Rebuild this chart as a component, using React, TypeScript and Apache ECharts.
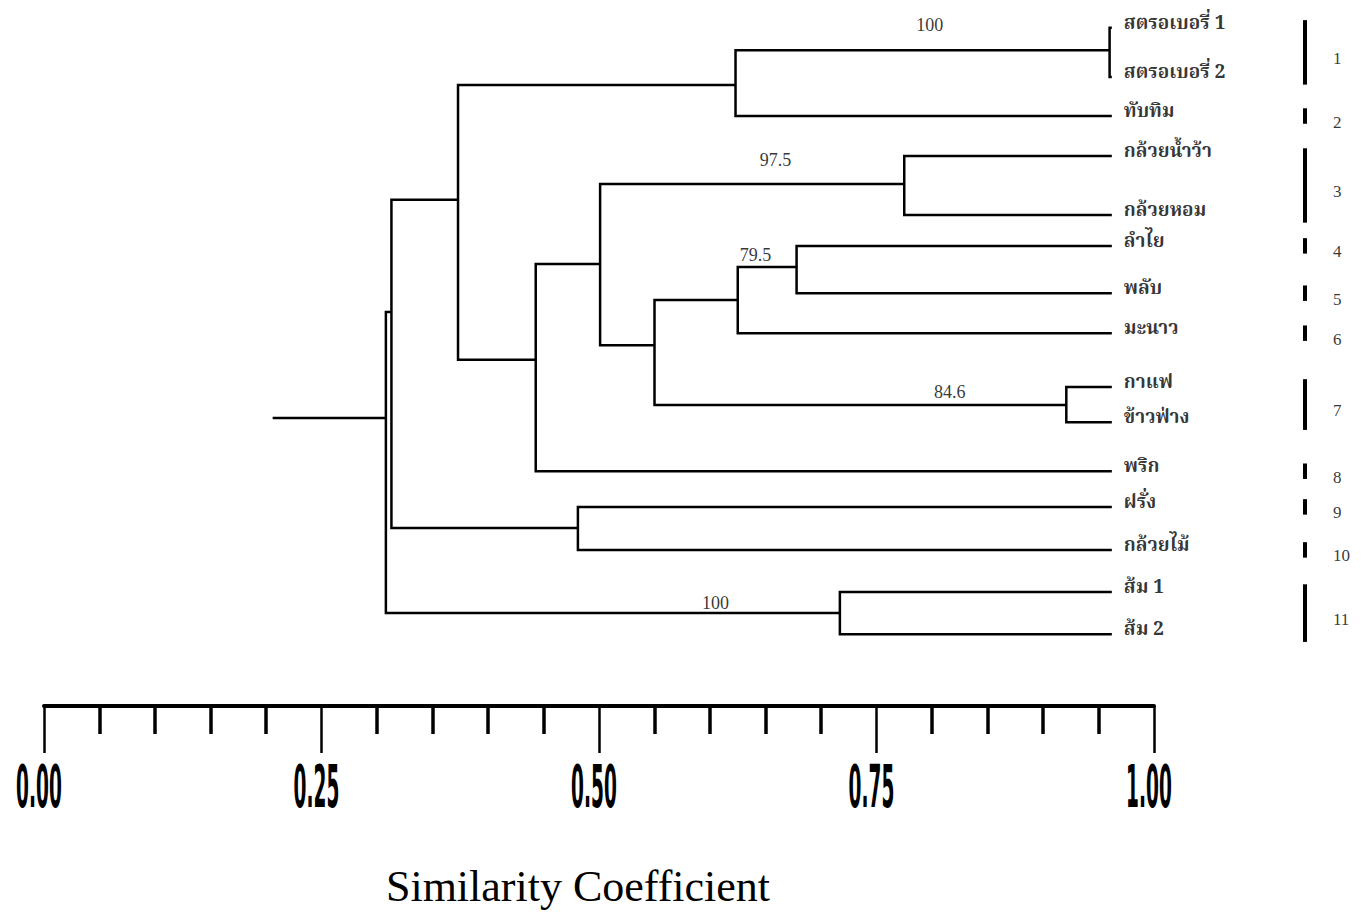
import React, { useEffect, useRef } from "react";
import * as echarts from "echarts";

// ---------- data ----------
const leafNames = [
  "สตรอเบอรี่ 1", "สตรอเบอรี่ 2", "ทับทิม", "กล้วยน้ำว้า", "กล้วยหอม",
  "ลำไย", "พลับ", "มะนาว", "กาแฟ", "ข้าวฟ่าง", "พริก", "ฝรั่ง", "กล้วยไม้", "ส้ม 1", "ส้ม 2",
];
// vertical position of each leaf (in leaf-row units, 0 = first row)
const leafRows = [-0.05, 1.09, 2.0, 2.93, 4.3, 5.02, 6.12, 7.05, 8.3, 9.12, 10.26, 11.09, 12.09, 13.07, 14.05];
const leafSimilarity = 0.962;

// internal nodes of the dendrogram
const nodeIds = ["straw", "a", "banana", "lp", "n5", "coffee", "n7", "n8", "n9", "n10", "gg", "X", "orange", "root"];
const nodeChildren = [
  ["L0", "L1"], ["straw", "L2"], ["L3", "L4"], ["L5", "L6"], ["lp", "L7"], ["L8", "L9"],
  ["n5", "coffee"], ["banana", "n7"], ["n8", "L10"], ["a", "n9"], ["L11", "L12"],
  ["n10", "gg"], ["L13", "L14"], ["X", "orange"],
];
const nodeSimilarity = [0.96, 0.623, 0.775, 0.678, 0.625, 0.921, 0.55, 0.501, 0.443, 0.373, 0.481, 0.313, 0.717, 0.308];
const nodeRows = [0.47, 1.28, 3.58, 5.51, 6.28, 8.72, 7.33, 5.44, 7.67, 3.95, 11.58, 6.56, 13.56, 9.02];
const rootStubStart = 0.206;

// bootstrap support values
const bootstrapValues = ["100", "97.5", "79.5", "84.6", "100"];
const bootstrapSimilarity = [0.798, 0.659, 0.641, 0.816, 0.605];
const bootstrapRows = [-0.12, 3.02, 5.23, 8.42, 13.33];

// groups shown on the right
const groupLabels = ["1", "2", "3", "4", "5", "6", "7", "8", "9", "10", "11"];
const groupFirstLeaf = [0, 2, 3, 5, 6, 7, 8, 10, 11, 12, 13];
const groupLastLeaf = [1, 2, 4, 5, 6, 7, 9, 10, 11, 12, 14];

// axis
const axisTickValues = [0, 0.25, 0.5, 0.75, 1];
const axisTickLabels = ["0.00", "0.25", "0.50", "0.75", "1.00"];
const axisTitle = "Similarity Coefficient";

export default function App() {
  const ref = useRef<HTMLDivElement>(null);

  useEffect(() => {
    if (!ref.current) return;
    const chart = echarts.init(ref.current, null, { renderer: "svg" });

    const pos: Record<string, { x: number; row: number }> = {};
    leafNames.forEach((_, i) => (pos["L" + i] = { x: leafSimilarity, row: leafRows[i] }));
    nodeIds.forEach((id, i) => (pos[id] = { x: nodeSimilarity[i], row: nodeRows[i] }));

    const treeLines: any[] = nodeIds.map((id, i) => {
      const [c1, c2] = nodeChildren[i].map((c) => pos[c]);
      const x = nodeSimilarity[i];
      return { coords: [[c1.x, c1.row], [x, c1.row], [x, c2.row], [c2.x, c2.row]] };
    });
    const root = pos["root"];
    treeLines.push({ coords: [[rootStubStart, root.row], [root.x, root.row]] });

    const groupBarX = 1.136;
    const barPad = 0.18;
    const groupBars = groupLabels.map((_, i) => ({
      coords: [
        [groupBarX, leafRows[groupFirstLeaf[i]] - barPad],
        [groupBarX, leafRows[groupLastLeaf[i]] + barPad],
      ],
    }));
    const groupMid = groupLabels.map((g, i) => ({
      value: [groupBarX, (leafRows[groupFirstLeaf[i]] + leafRows[groupLastLeaf[i]]) / 2],
      name: g,
    }));

    const yMin = -0.698;
    const yMax = 15.72;

    const option: any = {
      animation: false,
      backgroundColor: "#ffffff",
      grid: { left: 44, right: 216, top: 0, height: 706, containLabel: false },
      xAxis: {
        type: "value",
        min: 0,
        max: 1,
        interval: 0.25,
        position: "bottom",
        axisLine: { show: true, onZero: false, lineStyle: { color: "#000", width: 4 } },
        axisTick: { show: true, length: 47, lineStyle: { color: "#000", width: 2.5 } },
        minorTick: { show: true, splitNumber: 5, length: 28, lineStyle: { color: "#000", width: 3.5 } },
        splitLine: { show: false },
        minorSplitLine: { show: false },
        axisLabel: { show: false },
        name: axisTitle,
        nameLocation: "middle",
        nameGap: 158,
        nameTextStyle: {
          color: "#000",
          fontSize: 44,
          fontFamily: "'Liberation Serif', 'DejaVu Serif', serif",
          padding: [0, 42, 0, 0],
        },
      },
      yAxis: { type: "value", inverse: true, min: yMin, max: yMax, show: false },
      series: [
        {
          type: "lines",
          coordinateSystem: "cartesian2d",
          polyline: true,
          silent: true,
          clip: false,
          lineStyle: { color: "#000", width: 2.5, opacity: 1 },
          data: treeLines,
        },
        {
          type: "lines",
          coordinateSystem: "cartesian2d",
          silent: true,
          clip: false,
          lineStyle: { color: "#000", width: 4, opacity: 1 },
          data: groupBars,
        },
        {
          type: "scatter",
          silent: true,
          clip: false,
          symbolSize: 0,
          data: leafNames.map((n, i) => ({ value: [leafSimilarity, leafRows[i]], name: n })),
          label: {
            show: true,
            position: "right",
            distance: 12,
            offset: [0, -4],
            color: "#000",
            fontSize: 19,
            fontWeight: "bold",
            fontFamily: "'Noto Serif Thai', 'Noto Sans Thai', 'Noto Sans', 'DejaVu Sans', sans-serif",
            formatter: (p: any) => p.name,
          },
        },
        {
          type: "scatter",
          silent: true,
          clip: false,
          symbolSize: 0,
          data: bootstrapValues.map((v, i) => ({ value: [bootstrapSimilarity[i], bootstrapRows[i]], name: v })),
          label: {
            show: true,
            position: "inside",
            color: "#000",
            fontSize: 18,
            fontFamily: "'Liberation Serif', 'DejaVu Serif', serif",
            formatter: (p: any) => p.name,
          },
        },
        {
          type: "scatter",
          silent: true,
          clip: false,
          symbolSize: 0,
          data: groupMid,
          label: {
            show: true,
            position: "right",
            distance: 28,
            offset: [0, 6],
            color: "#000",
            fontSize: 17,
            fontFamily: "'Liberation Serif', 'DejaVu Serif', serif",
            formatter: (p: any) => p.name,
          },
        },
      ],
    };

    chart.setOption(option);

    // condensed tick labels, placed through the axis scale
    const axisY = chart.convertToPixel({ yAxisIndex: 0 }, yMax) as number;
    const tickGraphics = axisTickValues.map((v, i) => {
      const px = chart.convertToPixel({ xAxisIndex: 0 }, v) as number;
      return {
        type: "text",
        x: px - 5,
        y: axisY + 52,
        scaleX: 0.32,
        silent: true,
        style: {
          text: axisTickLabels[i],
          font: "bold 58px 'DejaVu Sans', sans-serif",
          fill: "#000",
          textAlign: "center",
          textVerticalAlign: "top",
        },
      };
    });
    chart.setOption({ graphic: tickGraphics });

    return () => chart.dispose();
  }, []);

  return (
    <div
      ref={ref}
      style={{ position: "fixed", left: 0, top: 0, width: 1370, height: 921, background: "#fff" }}
    />
  );
}
